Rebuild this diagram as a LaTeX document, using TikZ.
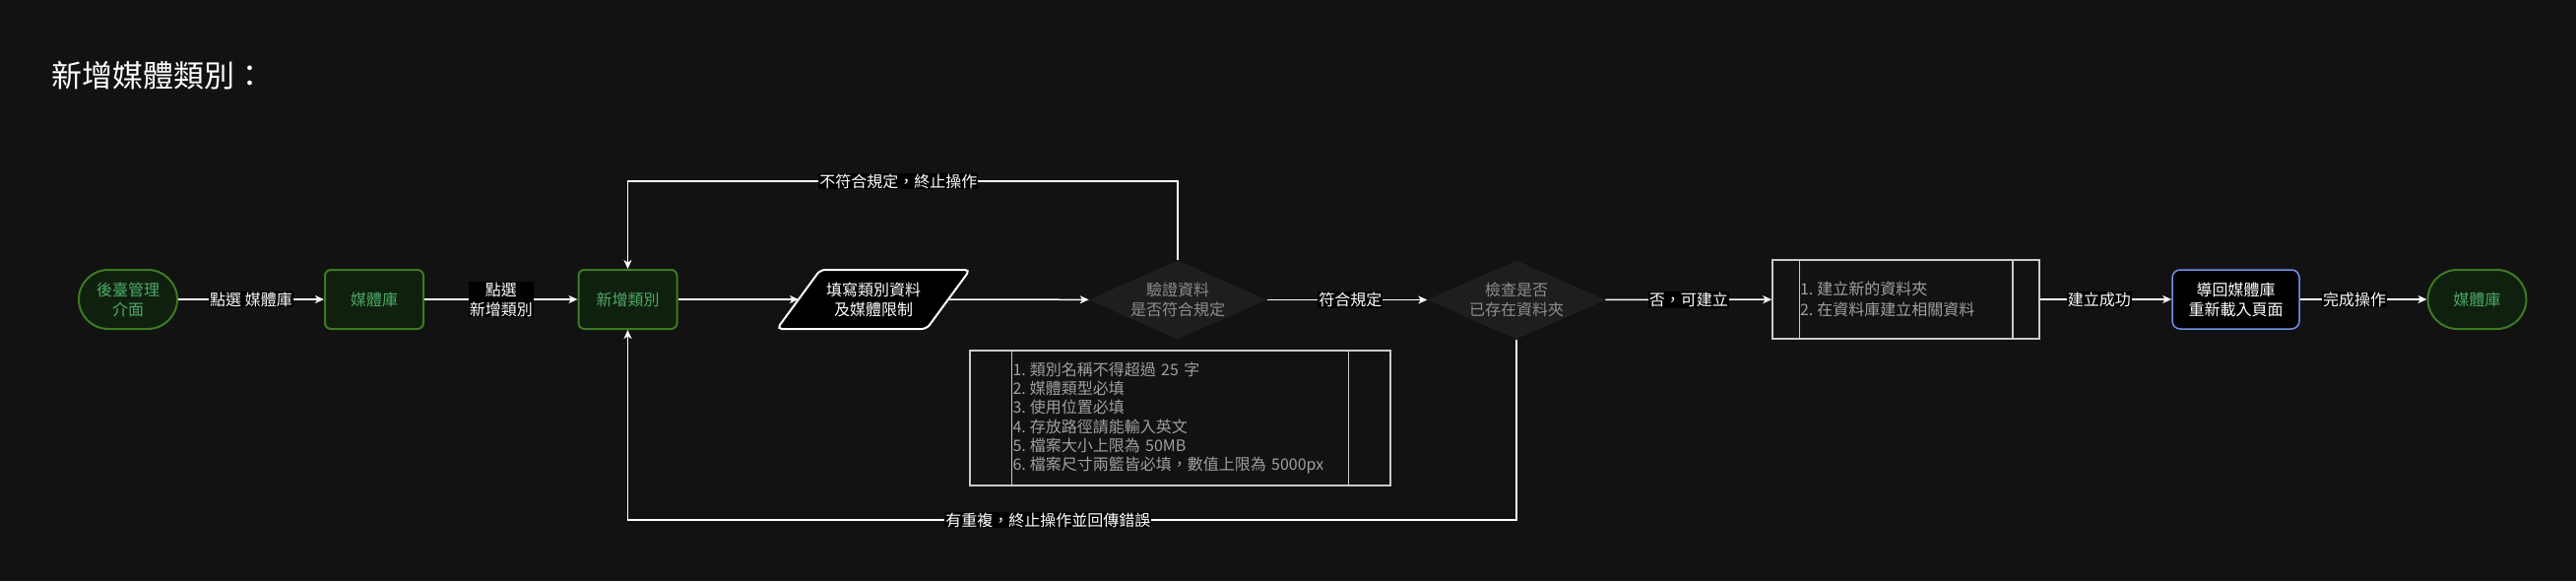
\documentclass[tikz,border=0pt]{standalone}
\usepackage{fontspec}
\setmainfont{Noto Sans CJK TC}
\usetikzlibrary{arrows.meta,shapes.geometric,calc}
\definecolor{bg}{HTML}{121212}
\definecolor{gfill}{HTML}{10200F}
\definecolor{gline}{HTML}{3D7B22}
\definecolor{gtext}{HTML}{4CAA68}
\definecolor{dfill}{HTML}{1E1E1E}
\definecolor{dtext}{HTML}{8E8E8E}
\definecolor{boxline}{HTML}{CACACA}
\definecolor{boxtext}{HTML}{A0A0A0}
\definecolor{blueline}{HTML}{6F92EC}
\newcommand\itemno[1]{#1.\kern4pt}
\tikzset{
  f16/.style={font={\fontsize{16}{20}\selectfont}},
  term/.style={f16, draw=gline, line width=2pt, fill=gfill, text=gtext, rounded corners=30pt,
    minimum width=100pt, minimum height=60pt, align=center, inner sep=0pt},
  gbox/.style={f16, draw=gline, line width=2pt, fill=gfill, text=gtext, rounded corners=6pt,
    minimum width=100pt, minimum height=60pt, align=center, inner sep=0pt},
  bbox/.style={f16, draw=blueline, line width=1.5pt, fill=black, text=white, rounded corners=8pt,
    minimum width=129pt, minimum height=60pt, align=center, inner sep=0pt},
  dec/.style={f16, shape=diamond, fill=dfill, text=dtext, aspect=2.25, inner sep=0pt,
    minimum width=181pt, minimum height=80pt, align=center},
  ptext/.style={f16, text=white, align=center, inner sep=0pt},
  lbl/.style={f16, fill=black, text=white, inner sep=1pt, align=center},
  conn/.style={draw=white, line width=1.5pt},
  arr/.style={conn, -{Stealth[length=9pt,width=8pt,inset=2.5pt]}},
}
\begin{document}
\begin{tikzpicture}[x=1pt,y=-1pt]
\path[fill=bg] (0,0) rectangle (2616,590);

\node[anchor=west, text=white, font={\fontsize{31}{36}\selectfont}, inner sep=0pt] (title) at (52,77) {新增媒體類別：};

\node[term] (n1) at (130,304) {後臺管理\\介面};
\node[gbox] (n2) at (380,304) {媒體庫};
\node[gbox] (n3) at (637.5,304) {新增類別};

% parallelogram
\draw[draw=white, fill=black, line width=2pt, rounded corners=5pt]
  (789,334) -- (833,274) -- (985,274) -- (941,334) -- cycle;
\node[ptext] (par) at (887,304) {填寫類別資料\\及媒體限制};
\coordinate (parL) at (811,304);
\coordinate (parR) at (963,304);

\node[dec] (d1) at (1196,304.5) {驗證資料\\是否符合規定};
\node[dec] (d2) at (1540,304.5) {檢查是否\\已存在資料夾};

% rules box
\node[draw=boxline, line width=1.5pt, fill=bg, text=boxtext, minimum width=427pt, minimum height=137pt,
  text width=340pt, inner xsep=43.5pt, align=left, font={\fontsize{16}{19.3}\selectfont}] (rbox) at (1198.5,424.5)
  {\itemno{1}類別名稱不得超過 25 字\\\itemno{2}媒體類型必填\\\itemno{3}使用位置必填\\\itemno{4}存放路徑請能輸入英文\\\itemno{5}檔案大小上限為 50MB\\\itemno{6}檔案尺寸兩籃皆必填，數值上限為 5000px};
\draw[boxline, line width=1.5pt] ([xshift=43pt]rbox.north west) -- ([xshift=43pt]rbox.south west);
\draw[boxline, line width=1.5pt] ([xshift=-43.5pt]rbox.north east) -- ([xshift=-43.5pt]rbox.south east);

% process box
\node[draw=boxline, line width=1.5pt, fill=bg, text=boxtext, minimum width=271pt, minimum height=80pt,
  text width=215pt, inner xsep=28pt, align=left, font={\fontsize{16}{21}\selectfont}] (pbox) at (1935.5,304)
  {\itemno{1}建立新的資料夾\\\itemno{2}在資料庫建立相關資料};
\draw[boxline, line width=1.5pt] ([xshift=28pt]pbox.north west) -- ([xshift=28pt]pbox.south west);
\draw[boxline, line width=1.5pt] ([xshift=-28pt]pbox.north east) -- ([xshift=-28pt]pbox.south east);

\node[bbox] (n4) at (2270.5,304) {導回媒體庫\\重新載入頁面};
\node[term] (n5) at (2515.5,304) {媒體庫};

% connectors
\draw[arr] (n1) -- node[lbl] {點選 媒體庫} (n2);
\draw[arr] (n2) -- node[lbl] {點選\\新增類別} (n3);
\draw[arr] (n3) -- (parL);
\draw[arr] (parR) -- (d1);
\draw[arr] (d1) -- node[lbl, pos=0.52] {符合規定} (d2);
\draw[arr] (d2) -- node[lbl, pos=0.5] {否，可建立} (pbox);
\draw[arr] (pbox) -- node[lbl, pos=0.45] {建立成功} (n4);
\draw[arr] (n4) -- node[lbl, pos=0.43] {完成操作} (n5);

\coordinate (ytop) at (0,184);
\coordinate (ybot) at (0,528);
\draw[arr] (d1.north) -- (d1.north |- ytop) -- node[lbl, pos=0.508] {不符合規定，終止操作} (n3.north |- ytop) -- (n3.north);
\draw[arr] (d2.south) -- (d2.south |- ybot) -- node[lbl, pos=0.527] {有重複，終止操作並回傳錯誤} (n3.south |- ybot) -- (n3.south);
\end{tikzpicture}
\end{document}
